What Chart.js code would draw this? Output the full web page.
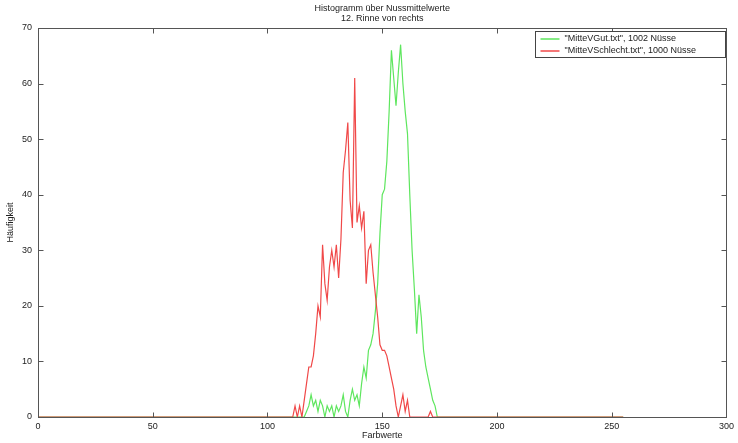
<!DOCTYPE html>
<html>
<head>
<meta charset="utf-8">
<script src="https://cdn.jsdelivr.net/npm/chart.js@4/dist/chart.umd.min.js"></script>
<style>
  html, body { margin: 0; padding: 0; background: #fff; }
  #wrap { width: 738px; height: 443px; }
</style>
</head>
<body>
<div id="wrap"><canvas id="histChart" width="738" height="443"></canvas></div>
<script>
// Titel und Beschriftungen
const titleLines = ['Histogramm über Nussmittelwerte', '12. Rinne von rechts'];
const xTitle = 'Farbwerte';
const yTitle = 'Häufigkeit';

// Farbwert-Klassen (außerhalb 110..176 überall 0)
const bins = [0,
  110, 111, 112, 113, 114, 115, 116, 117, 118, 119,
  120, 121, 122, 123, 124, 125, 126, 127, 128, 129,
  130, 131, 132, 133, 134, 135, 136, 137, 138, 139,
  140, 141, 142, 143, 144, 145, 146, 147, 148, 149,
  150, 151, 152, 153, 154, 155, 156, 157, 158, 159,
  160, 161, 162, 163, 164, 165, 166, 167, 168, 169,
  170, 171, 172, 173, 174, 175, 176,
  255];

// "MitteVGut.txt", 1002 Nüsse
const gutCounts = [0,
  0, 0, 0, 0, 0, 0, 0, 1, 2, 4,
  2, 3, 1, 3, 2, 0, 2, 1, 2, 0,
  2, 1, 2, 4, 1, 0, 3, 5, 3, 4,
  2, 6, 9, 7, 12, 13, 15, 19, 24, 33,
  40, 41, 46, 55, 66, 61, 56, 62, 67, 60,
  55, 51, 40, 30, 23, 15, 22, 18, 12, 9,
  7, 5, 3, 2, 0, 0, 0,
  0];

// "MitteVSchlecht.txt", 1000 Nüsse
const schlechtCounts = [0,
  0, 0, 2, 0, 2, 0, 3, 6, 9, 9,
  11, 15, 20, 18, 31, 24, 21, 27, 30, 27,
  31, 25, 32, 44, 48, 53, 39, 34, 61, 35,
  38, 34, 37, 24, 30, 31, 26, 22, 18, 13,
  12, 12, 11, 9, 7, 5, 2, 0, 2, 4,
  1, 3, 0, 0, 0, 0, 0, 0, 0, 0,
  0, 1, 0, 0, 0, 0, 0,
  0];

const seriesLabels = ['"MitteVGut.txt", 1002 Nüsse', '"MitteVSchlecht.txt", 1000 Nüsse'];
const seriesColors = ['#5ee65e', '#f04848'];

const xTicks = [0, 50, 100, 150, 200, 250, 300];
const yTicks = [0, 10, 20, 30, 40, 50, 60, 70];

Chart.defaults.font.family = '"Liberation Sans", Arial, sans-serif';
Chart.defaults.font.size = 9;
Chart.defaults.color = '#222';

// Rahmen, innere Teilstriche, Titel und Legende im MATLAB-Stil
const matlabBox = {
  id: 'matlabBox',
  afterDraw(chart) {
    const ctx = chart.ctx;
    const a = chart.chartArea;
    const xs = chart.scales.x;
    const ys = chart.scales.y;
    const L = Math.round(a.left) + 0.5, R = Math.round(a.right) + 0.5;
    const T = Math.round(a.top) + 0.5, B = Math.round(a.bottom) + 0.5;
    ctx.save();
    ctx.strokeStyle = '#555';
    ctx.lineWidth = 1;
    ctx.strokeRect(L, T, R - L, B - T);
    ctx.beginPath();
    xTicks.forEach(v => {
      const p = Math.round(xs.getPixelForValue(v)) + 0.5;
      ctx.moveTo(p, B); ctx.lineTo(p, B - 5);
      ctx.moveTo(p, T); ctx.lineTo(p, T + 5);
    });
    yTicks.forEach(v => {
      const p = Math.round(ys.getPixelForValue(v)) + 0.5;
      ctx.moveTo(L, p); ctx.lineTo(L + 5, p);
      ctx.moveTo(R, p); ctx.lineTo(R - 5, p);
    });
    ctx.stroke();

    // Titel
    ctx.fillStyle = '#222';
    ctx.font = '9px "Liberation Sans", Arial, sans-serif';
    ctx.textAlign = 'center';
    ctx.textBaseline = 'middle';
    const cx = (a.left + a.right) / 2;
    ctx.fillText(titleLines[0], cx, 9);
    ctx.fillText(titleLines[1], cx, 19);

    // Legende
    const lx = 535.5, ly = 31.5, lw = 190, lh = 26;
    ctx.fillStyle = '#fff';
    ctx.fillRect(lx, ly, lw, lh);
    ctx.strokeStyle = '#444';
    ctx.strokeRect(lx, ly, lw, lh);
    ctx.textAlign = 'left';
    seriesLabels.forEach((label, i) => {
      const yy = ly + 7 + i * 12;
      ctx.strokeStyle = seriesColors[i];
      ctx.lineWidth = 1.5;
      ctx.beginPath();
      ctx.moveTo(lx + 5, Math.round(yy));
      ctx.lineTo(lx + 24, Math.round(yy));
      ctx.stroke();
      ctx.fillStyle = '#222';
      ctx.fillText(label, lx + 29, yy);
    });
    ctx.restore();
  }
};

const toPoints = counts => bins.map((b, i) => ({ x: b, y: counts[i] }));

new Chart(document.getElementById('histChart'), {
  type: 'line',
  data: {
    datasets: [
      // order 1 = darunter, rote Kurve liegt oben
      { label: seriesLabels[0], data: toPoints(gutCounts), borderColor: seriesColors[0],
        borderWidth: 1.2, pointRadius: 0, tension: 0, fill: false, order: 1 },
      { label: seriesLabels[1], data: toPoints(schlechtCounts), borderColor: seriesColors[1],
        borderWidth: 1.2, pointRadius: 0, tension: 0, fill: false, order: 0 }
    ]
  },
  options: {
    responsive: false,
    animation: false,
    devicePixelRatio: 1,
    layout: { padding: { top: 28, right: 11, left: 0, bottom: 0 } },
    plugins: {
      legend: { display: false },
      title: { display: false },
      tooltip: { enabled: false }
    },
    scales: {
      x: {
        type: 'linear',
        min: 0,
        max: 300,
        afterBuildTicks: s => { s.ticks = xTicks.map(v => ({ value: v })); },
        afterFit: s => { s.height = 26; },
        grid: { display: false, drawTicks: false },
        border: { display: false },
        ticks: { padding: 4, maxRotation: 0, color: '#222' },
        title: { display: true, text: xTitle, color: '#222', padding: { top: 0, bottom: 2 } }
      },
      y: {
        min: 0,
        max: 70,
        afterBuildTicks: s => { s.ticks = yTicks.map(v => ({ value: v })); },
        afterFit: s => { s.width = 38; },
        grid: { display: false, drawTicks: false },
        border: { display: false },
        ticks: { padding: 6, color: '#222' },
        title: { display: true, text: yTitle, color: '#222', padding: { top: 5, bottom: 4 } }
      }
    }
  },
  plugins: [matlabBox]
});
</script>
</body>
</html>
